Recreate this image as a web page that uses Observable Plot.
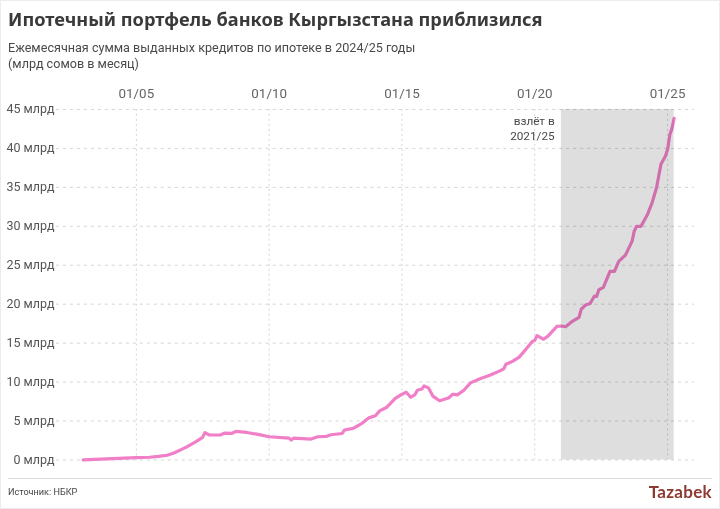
<!DOCTYPE html>
<html lang="ru"><head><meta charset="utf-8">
<script src="https://cdn.jsdelivr.net/npm/d3@7"></script>
<script src="https://cdn.jsdelivr.net/npm/@observablehq/plot@0.6"></script>
<style>
html,body{margin:0;padding:0;background:#fff;}
#c{position:relative;width:720px;height:509px;box-sizing:border-box;overflow:hidden;font-family:Roboto,sans-serif;border:1px solid #ececec;}
#c>*{position:absolute;}
#t{left:7px;top:6px;font-family:"Noto Sans",sans-serif;font-size:18.2px;font-weight:700;color:#3a3a3a;white-space:nowrap;line-height:24px;}
.s{left:7px;font-size:12.6px;color:#4a4a4a;line-height:15px;white-space:nowrap;}
#p{left:-1px;top:69px;}
#r{left:7px;top:477px;width:704px;height:1px;background:#ddd;}
#src{left:7px;top:485px;font-size:9.1px;color:#444;line-height:13px;}
#logo{right:7px;top:479px;font-size:17px;line-height:24px;color:#8c3a32;font-family:Lato,sans-serif;font-weight:700;letter-spacing:.3px;}
</style></head><body>
<div id="c">
<div id="t">Ипотечный портфель банков Кыргызстана приблизился</div>
<div class="s" style="top:39px">Ежемесячная сумма выданных кредитов по ипотеке в 2024/25 годы</div>
<div class="s" style="top:55px">(млрд сомов в месяц)</div>
<div id="p"></div>
<div id="r"></div>
<div id="src">Источник: НБКР</div>
<div id="logo">Tazabek</div>
</div>
<script>
const months = ["2003-01","2003-09","2004-05","2005-01","2005-07","2005-11","2006-03","2006-06","2006-09","2006-12","2007-04","2007-07","2007-08","2007-10","2008-03","2008-05","2008-08","2008-10","2009-03","2009-08","2010-01","2010-10","2010-11","2010-12","2011-08","2011-11","2012-03","2012-05","2012-10","2012-11","2013-03","2013-07","2013-10","2014-01","2014-03","2014-06","2014-10","2014-12","2015-03","2015-05","2015-07","2015-08","2015-10","2015-11","2016-01","2016-03","2016-06","2016-10","2016-12","2017-02","2017-05","2017-08","2017-12","2018-05","2018-09","2018-11","2018-12","2019-03","2019-06","2019-09","2019-12","2020-01","2020-02","2020-05","2020-07","2020-11","2021-01","2021-03","2021-06","2021-09","2021-10","2021-12","2022-02","2022-04","2022-05","2022-06","2022-08","2022-11","2023-01","2023-03","2023-06","2023-09","2023-10","2023-11","2024-01","2024-04","2024-06","2024-08","2024-10","2024-12","2025-01","2025-02","2025-03","2025-04"];
const values = [0,0.1,0.2,0.3,0.35,0.45,0.6,0.9,1.3,1.7,2.35,2.9,3.5,3.2,3.2,3.45,3.4,3.67,3.53,3.28,2.98,2.8,2.55,2.8,2.68,2.98,3.03,3.24,3.4,3.84,4.05,4.7,5.4,5.67,6.3,6.73,7.9,8.27,8.7,8.05,8.4,8.95,9.1,9.5,9.25,8.2,7.6,7.95,8.44,8.35,8.95,9.9,10.4,10.9,11.4,11.7,12.28,12.66,13.2,14.2,15.25,15.35,15.95,15.5,15.9,17.14,17.2,17.1,17.8,18.3,19.35,19.9,20.1,21.05,21,21.85,22.15,24.2,24.2,25.5,26.3,28.1,29.4,30,30,31.55,33,34.95,37.95,39,39.9,41.8,42.5,43.85];
const xTicks = ["2005-01","2010-01","2015-01","2020-01","2025-01"];
const yTicks = [0,5,10,15,20,25,30,35,40,45];
const shadeFrom = "2021-01", shadeTo = "2025-04";
const noteLines = ["взлёт в","2021/25"], noteValues = [43.45,41.55], noteAt = "2020-10";

const parse = d3.utcParse("%Y-%m");
const data = months.map((m,i)=>({date:parse(m),value:values[i]}));
const ticks = xTicks.map(parse);
const chart = Plot.plot({
  width:720,height:400,marginTop:39,marginBottom:10,marginLeft:56,marginRight:25,
  style:{fontFamily:'Roboto,sans-serif',background:"transparent",overflow:"visible"},
  x:{type:"utc",domain:[new Date(Date.UTC(2001,11,29)),new Date(Date.UTC(2026,0,6))]},
  y:{domain:[0,45]},
  marks:[
    Plot.gridX(ticks,{stroke:"#d4d4d4",strokeOpacity:1,strokeDasharray:"2,3",strokeWidth:1}),
    Plot.gridY(yTicks,{stroke:"#d4d4d4",strokeOpacity:1,strokeDasharray:"3,4",strokeWidth:1}),
    Plot.axisX(ticks,{anchor:"top",tickSize:0,tickPadding:11,tickFormat:d3.utcFormat("%m/%y"),fontSize:13.4,fill:"#666",label:null}),
    Plot.axisY(yTicks,{anchor:"left",tickSize:0,tickPadding:2,tickFormat:d=>d+" млрд",fontSize:12.5,fill:"#555",label:null}),
    Plot.line(data,{x:"date",y:"value",stroke:"#f07fc8",strokeWidth:3.2,curve:"linear"}),
    Plot.rectY([{a:parse(shadeFrom),b:parse(shadeTo)}],{x1:"a",x2:"b",y1:0,y2:45,fill:"#dedede",mixBlendMode:"multiply"}),
    Plot.text(noteLines,{x:()=>parse(noteAt),y:(d,i)=>noteValues[i],text:d=>d,textAnchor:"end",fontSize:11.8,fill:"#4a4a4a"})
  ]
});
document.getElementById("p").appendChild(chart);
</script>
</body></html>
